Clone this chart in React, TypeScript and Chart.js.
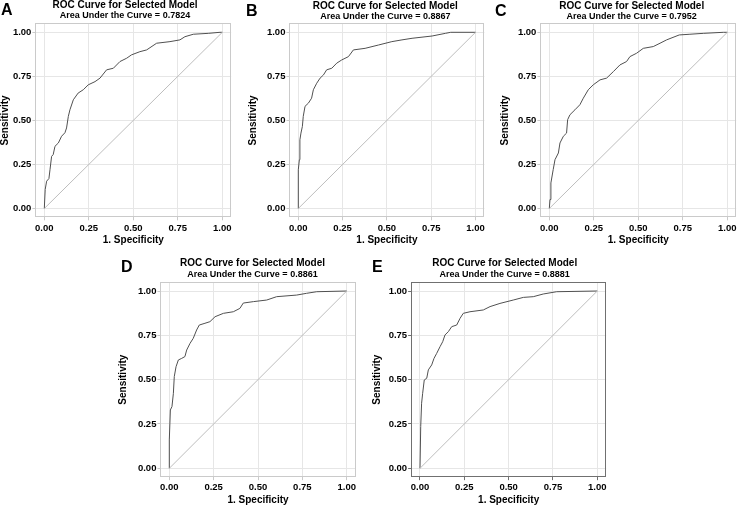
import React, { useEffect, useRef } from "react";
import { Chart, registerables } from "chart.js";
Chart.register(...registerables);

const TICKS = [0, 0.25, 0.5, 0.75, 1];
const TITLE = "ROC Curve for Selected Model";
const X_TITLE = "1. Specificity";
const Y_TITLE = "Sensitivity";
const LETTERS = ["A", "B", "C", "D", "E"];
const AUC = ["0.7824", "0.8867", "0.7952", "0.8861", "0.8881"];
const DIAG_X = [0, 1];
const DIAG_Y = [0, 1];

const A_FPR = [0, 0.005, 0.013, 0.026, 0.032, 0.041, 0.05, 0.06, 0.079, 0.097, 0.116, 0.125, 0.135, 0.144, 0.163, 0.19, 0.219, 0.247, 0.285, 0.313, 0.35, 0.388, 0.425, 0.463, 0.49, 0.537, 0.575, 0.631, 0.706, 0.762, 0.79, 0.837, 0.921, 0.987, 1];
const A_TPR = [0, 0.108, 0.155, 0.17, 0.22, 0.296, 0.306, 0.353, 0.372, 0.41, 0.43, 0.457, 0.523, 0.56, 0.617, 0.655, 0.674, 0.702, 0.72, 0.74, 0.787, 0.796, 0.834, 0.853, 0.872, 0.89, 0.9, 0.938, 0.947, 0.957, 0.975, 0.989, 0.994, 1, 1];

const B_FPR = [0, 0, 0.006, 0.009, 0.015, 0.023, 0.028, 0.038, 0.057, 0.075, 0.085, 0.104, 0.123, 0.142, 0.16, 0.189, 0.217, 0.245, 0.283, 0.311, 0.377, 0.453, 0.528, 0.585, 0.642, 0.755, 0.83, 0.86, 1];
const B_TPR = [0, 0.22, 0.277, 0.39, 0.428, 0.466, 0.523, 0.58, 0.598, 0.626, 0.674, 0.711, 0.74, 0.758, 0.787, 0.796, 0.825, 0.843, 0.862, 0.9, 0.909, 0.928, 0.947, 0.957, 0.966, 0.979, 0.994, 1, 1];

const C_FPR = [0, 0.004, 0.009, 0.022, 0.032, 0.051, 0.06, 0.079, 0.097, 0.103, 0.116, 0.144, 0.172, 0.191, 0.219, 0.247, 0.285, 0.322, 0.36, 0.397, 0.434, 0.453, 0.49, 0.528, 0.584, 0.622, 0.659, 0.73, 0.79, 0.865, 0.978, 1];
const C_TPR = [0, 0.051, 0.145, 0.221, 0.277, 0.315, 0.372, 0.41, 0.428, 0.504, 0.532, 0.56, 0.589, 0.626, 0.674, 0.702, 0.73, 0.74, 0.777, 0.815, 0.834, 0.862, 0.881, 0.909, 0.919, 0.938, 0.957, 0.985, 0.989, 0.994, 1, 1];

const D_FPR = [0, 0, 0.006, 0.015, 0.023, 0.028, 0.038, 0.051, 0.07, 0.088, 0.098, 0.117, 0.135, 0.154, 0.169, 0.201, 0.229, 0.258, 0.305, 0.361, 0.398, 0.417, 0.474, 0.549, 0.605, 0.718, 0.774, 0.831, 1];
const D_TPR = [0, 0.16, 0.329, 0.348, 0.423, 0.517, 0.573, 0.611, 0.62, 0.63, 0.667, 0.705, 0.733, 0.78, 0.808, 0.818, 0.827, 0.855, 0.874, 0.883, 0.902, 0.932, 0.94, 0.949, 0.968, 0.977, 0.987, 0.996, 1];

const E_FPR = [0, 0.004, 0.009, 0.015, 0.024, 0.038, 0.047, 0.066, 0.079, 0.094, 0.113, 0.128, 0.141, 0.16, 0.179, 0.207, 0.226, 0.244, 0.282, 0.357, 0.395, 0.451, 0.526, 0.583, 0.639, 0.695, 0.771, 1];
const E_TPR = [0, 0.235, 0.367, 0.423, 0.498, 0.508, 0.555, 0.583, 0.62, 0.648, 0.686, 0.714, 0.752, 0.771, 0.799, 0.808, 0.846, 0.874, 0.883, 0.893, 0.912, 0.93, 0.949, 0.964, 0.968, 0.983, 0.996, 1];

const FPRS = [A_FPR, B_FPR, C_FPR, D_FPR, E_FPR];
const TPRS = [A_TPR, B_TPR, C_TPR, D_TPR, E_TPR];

// layout (pixel positions of the panels on the page)
const GEOM = [
  { x0: 44.3, x1: 222.3, y1: 32.3, y0: 208.5, tcx: 125, tcy: 5.5, ytx: 5, lx: 1, ly: 2, frame: "#cacaca" },
  { x0: 298.3, x1: 475.5, y1: 32.3, y0: 208.5, tcx: 385.3, tcy: 6, ytx: 253, lx: 246, ly: 2.5, frame: "#cacaca" },
  { x0: 549.3, x1: 727.3, y1: 32.3, y0: 208.5, tcx: 631.7, tcy: 6, ytx: 505, lx: 495, ly: 3, frame: "#cacaca" },
  { x0: 169.3, x1: 346.7, y1: 291, y0: 468.3, tcx: 252.5, tcy: 263.7, ytx: 123.3, lx: 121, ly: 258.5, frame: "#cacaca" },
  { x0: 420, x1: 597.3, y1: 291, y0: 468.3, tcx: 504.7, tcy: 263.7, ytx: 377.3, lx: 372, ly: 258.5, frame: "#707070" },
];

const FONT = "'Liberation Sans', Arial, Helvetica, sans-serif";

const framePlugin = {
  id: "frame",
  afterDraw(chart: any, _args: any, opts: any) {
    const { ctx, chartArea: a } = chart;
    ctx.save();
    ctx.strokeStyle = opts.color;
    ctx.lineWidth = 1;
    const l = Math.round(a.left) + 0.5;
    const t = Math.round(a.top) + 0.5;
    const r = Math.round(a.right) - 0.5;
    const b = Math.round(a.bottom) - 0.5;
    ctx.strokeRect(l, t, r - l, b - t);
    ctx.restore();
  },
};

function Panel({ idx }: { idx: number }) {
  const ref = useRef<HTMLCanvasElement | null>(null);
  const g = GEOM[idx];
  const ux = g.x1 - g.x0;
  const uy = g.y0 - g.y1;
  const L = g.x0 - 0.05 * ux;
  const R = g.x1 + 0.05 * ux;
  const T = g.y1 - 0.05 * uy;
  const B = g.y0 + 0.05 * uy;
  const cl = Math.floor(g.ytx - 7);
  const rightW = 2 * g.tcx - cl - R;
  const cw = Math.ceil(R - cl + rightW + 1);
  const padR = cw - (R - cl + rightW);
  const ct = Math.floor(g.tcy - 5);
  const titlePadTop = g.tcy - 5 - ct;
  const xty = g.y0 + 31.5;
  const ch = Math.ceil(xty + 8 - ct);
  const cb = ct + ch;
  const xTitlePadB = cb - xty - 6;
  const titleH = titlePadTop + 10;
  const subPadB = T - ct - titleH - 10.8;
  const yScaleW = L - cl;
  const xScaleH = cb - B;
  const yTitlePadTop = g.ytx - cl - 5;

  useEffect(() => {
    if (!ref.current) return;
    const curve = FPRS[idx].map((x, i) => ({ x, y: TPRS[idx][i] }));
    const diag = DIAG_X.map((x, i) => ({ x, y: DIAG_Y[i] }));
    const tickFont = { family: FONT, size: 9.5, weight: "bold" as const };
    const chart = new Chart(ref.current, {
      type: "scatter",
      data: {
        datasets: [
          { data: diag, showLine: true, borderColor: "#bdbdbd", borderWidth: 1, pointRadius: 0, tension: 0 },
          { data: curve, showLine: true, borderColor: "#505050", borderWidth: 1, pointRadius: 0, tension: 0 },
        ],
      },
      options: {
        responsive: false,
        animation: false,
        events: [],
        layout: { padding: { left: 0, right: padR, top: 0, bottom: 0 } },
        plugins: {
          legend: { display: false },
          tooltip: { enabled: false },
          title: {
            display: true,
            text: TITLE,
            color: "#000",
            font: { family: FONT, size: 10, weight: "bold", lineHeight: 1 },
            padding: { top: titlePadTop, bottom: 0 },
          },
          subtitle: {
            display: true,
            text: "Area Under the Curve = " + AUC[idx],
            color: "#000",
            font: { family: FONT, size: 9, weight: "bold", lineHeight: 1.2 },
            padding: { top: 0, bottom: subPadB },
          },
          frame: { color: g.frame },
        } as any,
        scales: {
          x: {
            type: "linear",
            min: -0.05,
            max: 1.05,
            afterBuildTicks: (s: any) => {
              s.ticks = TICKS.map((v) => ({ value: v }));
            },
            afterFit: (s: any) => {
              s.height = xScaleH;
              s.paddingLeft = 0;
              s.paddingRight = 0;
              s.paddingTop = 0;
              s.paddingBottom = 0;
            },
            ticks: {
              callback: (v: any) => Number(v).toFixed(2),
              font: tickFont,
              color: "#000",
              padding: 2,
              maxRotation: 0,
              autoSkip: false,
            },
            grid: { color: "#e6e6e6", lineWidth: 1, drawTicks: true, tickLength: 3, tickColor: g.frame },
            border: { display: false },
            title: {
              display: true,
              text: X_TITLE,
              color: "#000",
              font: { family: FONT, size: 10, weight: "bold", lineHeight: 1.2 },
              padding: { top: 0, bottom: xTitlePadB },
            },
          },
          y: {
            type: "linear",
            position: "left",
            min: -0.05,
            max: 1.05,
            afterBuildTicks: (s: any) => {
              s.ticks = TICKS.map((v) => ({ value: v }));
            },
            afterFit: (s: any) => {
              s.width = yScaleW;
              s.paddingLeft = 0;
              s.paddingRight = 0;
              s.paddingTop = 0;
              s.paddingBottom = 0;
            },
            ticks: {
              callback: (v: any) => Number(v).toFixed(2),
              font: tickFont,
              color: "#000",
              padding: 1,
              autoSkip: false,
            },
            grid: { color: "#e6e6e6", lineWidth: 1, drawTicks: true, tickLength: 3, tickColor: g.frame },
            border: { display: false },
            title: {
              display: true,
              text: Y_TITLE,
              color: "#000",
              font: { family: FONT, size: 10, weight: "bold", lineHeight: 1 },
              padding: { top: yTitlePadTop, bottom: 0 },
            },
          },
          yRight: {
            type: "linear",
            position: "right",
            min: -0.05,
            max: 1.05,
            ticks: { display: false },
            grid: { display: false, drawTicks: false },
            border: { display: false },
            afterFit: (s: any) => {
              s.width = rightW;
              s.paddingLeft = 0;
              s.paddingRight = 0;
              s.paddingTop = 0;
              s.paddingBottom = 0;
            },
          },
        },
      } as any,
      plugins: [framePlugin as any],
    });
    return () => chart.destroy();
  }, [idx]);

  return (
    <>
      <canvas
        ref={ref}
        width={cw}
        height={ch}
        style={{ position: "absolute", left: cl, top: ct, width: cw, height: ch }}
      />
      <div
        style={{
          position: "absolute",
          left: g.lx,
          top: g.ly,
          font: `bold 16px ${FONT}`,
          lineHeight: 1,
          color: "#000",
        }}
      >
        {LETTERS[idx]}
      </div>
    </>
  );
}

export default function App() {
  return (
    <div style={{ position: "absolute", left: 0, top: 0, width: 741, height: 505, background: "#fff", overflow: "hidden" }}>
      {LETTERS.map((_, i) => (
        <Panel key={i} idx={i} />
      ))}
    </div>
  );
}
